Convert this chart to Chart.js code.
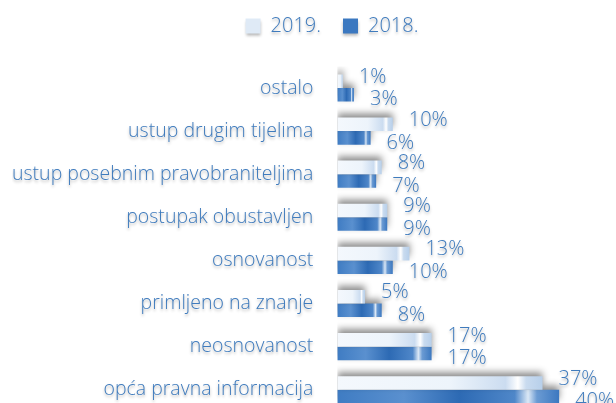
<!DOCTYPE html>
<html>
<head>
<meta charset="utf-8">
<script src="https://cdn.jsdelivr.net/npm/chart.js@4/dist/chart.umd.min.js"></script>
<style>
    body { margin: 0; background: #fff; overflow: hidden; }
</style>
</head>
<body>
<canvas id="chart" width="680" height="423"></canvas>
<script>
const categories = [
    'ostalo',
    'ustup drugim tijelima',
    'ustup posebnim pravobraniteljima',
    'postupak obustavljen',
    'osnovanost',
    'primljeno na znanje',
    'neosnovanost',
    'opća pravna informacija'
];
const seriesLabels = ['2019.', '2018.'];
const values2019 = [1, 10, 8, 9, 13, 5, 17, 37];
const values2018 = [3, 6, 7, 9, 10, 8, 17, 40];

const textColor = '#3f7bbd';
const fontFamily = '"Open Sans", "Segoe UI", sans-serif';

// horizontal gradient from the start of the bar to its end
function barFill(light) {
    return function(context) {
        const chart = context.chart;
        if (!chart.chartArea || context.parsed === undefined) {
            return light ? '#e6eff9' : '#3b78c0';
        }
        const x0 = chart.scales.x.getPixelForValue(0);
        const x1 = chart.scales.x.getPixelForValue(context.parsed.x);
        const g = chart.ctx.createLinearGradient(x0, 0, Math.max(x1, x0 + 1), 0);
        if (light) {
            g.addColorStop(0, '#f4f8fd');
            g.addColorStop(0.55, '#edf4fb');
            g.addColorStop(0.82, '#cbdcf0');
            g.addColorStop(0.88, '#ffffff');
            g.addColorStop(0.92, '#c9dbef');
            g.addColorStop(1, '#b7cfea');
        } else {
            g.addColorStop(0, '#3f7cc3');
            g.addColorStop(0.3, '#5a90cf');
            g.addColorStop(0.55, '#2d6ab4');
            g.addColorStop(0.8, '#4f87c9');
            g.addColorStop(0.86, '#dbe8f6');
            g.addColorStop(0.9, '#6b9bd3');
            g.addColorStop(1, '#3c78c0');
        }
        return g;
    };
}

const shadowPlugin = {
    id: 'shadows',
    afterLayout: function(chart) {
        // move the legend a bit to the left, like the original
        chart.legend.left -= 14;
        chart.legend.right -= 14;
    },
    beforeDraw: function(chart) {
        const ctx = chart.ctx;
        ctx.save();
        ctx.shadowColor = 'rgba(0, 0, 0, 0.3)';
        ctx.shadowBlur = 3;
        ctx.shadowOffsetY = 2;
    },
    beforeDatasetsDraw: function(chart) {
        const ctx = chart.ctx;
        ctx.save();
        ctx.shadowColor = 'rgba(0, 0, 0, 0.45)';
        ctx.shadowBlur = 7;
        ctx.shadowOffsetY = -4;
    },
    afterDatasetsDraw: function(chart) {
        const ctx = chart.ctx;
        ctx.restore();
        // value labels after the bar ends
        ctx.save();
        ctx.font = '300 20px ' + fontFamily;
        ctx.fillStyle = textColor;
        ctx.textAlign = 'left';
        ctx.textBaseline = 'middle';
        chart.data.datasets.forEach(function(ds, di) {
            const meta = chart.getDatasetMeta(di);
            meta.data.forEach(function(bar, i) {
                const dy = di === 0 ? -4 : 5;
                ctx.fillText(ds.data[i] + '%', bar.x + 16, bar.y + dy);
            });
        });
        ctx.restore();
    },
    afterDraw: function(chart) {
        chart.ctx.restore();
    }
};

new Chart(document.getElementById('chart'), {
    type: 'bar',
    data: {
        labels: categories,
        datasets: [{
            label: seriesLabels[0],
            data: values2019,
            backgroundColor: barFill(true),
            borderWidth: 0
        }, {
            label: seriesLabels[1],
            data: values2018,
            backgroundColor: barFill(false),
            borderWidth: 0
        }]
    },
    options: {
        indexAxis: 'y',
        responsive: false,
        animation: false,
        categoryPercentage: 0.63,
        barPercentage: 1,
        layout: {
            padding: { top: -6, right: 0, bottom: 0, left: 12 }
        },
        scales: {
            x: {
                display: false,
                min: 0,
                max: 61.8
            },
            y: {
                // invisible tick marks give the gap between labels and bars
                grid: {
                    display: true,
                    drawOnChartArea: false,
                    drawTicks: true,
                    tickLength: 24,
                    color: 'rgba(0, 0, 0, 0)'
                },
                border: { display: false },
                ticks: {
                    color: textColor,
                    padding: 0,
                    font: { family: fontFamily, size: 19.5, weight: '300' }
                }
            }
        },
        plugins: {
            legend: {
                position: 'top',
                labels: {
                    color: textColor,
                    boxWidth: 15,
                    boxHeight: 15,
                    padding: 22,
                    font: { family: fontFamily, size: 20, weight: '300' },
                    generateLabels: function(chart) {
                        const fills = ['#dfeaf6', '#3b78c0'];
                        return chart.data.datasets.map(function(ds, i) {
                            return {
                                text: ds.label,
                                fillStyle: fills[i],
                                strokeStyle: fills[i],
                                lineWidth: 0,
                                fontColor: textColor,
                                hidden: false,
                                datasetIndex: i
                            };
                        });
                    }
                }
            },
            // empty title used as a spacer under the legend
            title: {
                display: true,
                text: '',
                weight: 500,
                font: { size: 12 },
                padding: { top: 0, bottom: 6 }
            },
            tooltip: { enabled: false }
        }
    },
    plugins: [shadowPlugin]
});
</script>
</body>
</html>
